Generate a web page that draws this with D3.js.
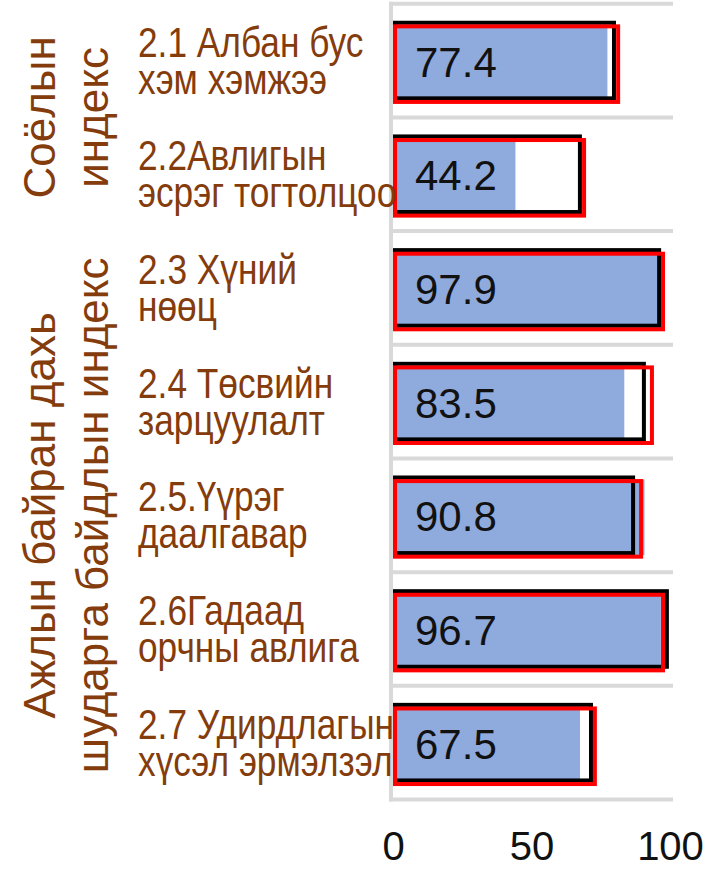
<!DOCTYPE html>
<html>
<head>
<meta charset="utf-8">
<script src="https://cdn.jsdelivr.net/npm/d3@7"></script>
<style>
  html, body { margin: 0; padding: 0; background: #fff; }
  svg { display: block; }
  text { font-family: "Liberation Sans", Arial, sans-serif; }
</style>
</head>
<body>
<svg id="chart" width="705" height="869"></svg>
<script>
// ---- data ----
const categories = [
  ["2.1 Албан бус", "хэм хэмжээ"],
  ["2.2Авлигын", "эсрэг тогтолцоо"],
  ["2.3 Хүний", "нөөц"],
  ["2.4 Төсвийн", "зарцуулалт"],
  ["2.5.Үүрэг", "даалгавар"],
  ["2.6Гадаад", "орчны авлига"],
  ["2.7 Удирдлагын", "хүсэл эрмэлзэл"]
];
const values        = [77.4, 44.2, 97.9, 83.5, 90.8, 96.7, 67.5];
const blackOutline  = [80.5, 68.2, 96.8, 91.3, 87.4, 99.6, 72.2];
const redOutline    = [82.0, 69.7, 98.2, 94.2, 90.3, 98.2, 73.6];
const tickValues    = [0, 50, 100];
const groupNames    = [["Соёлын", "индекс"], ["Ажлын байран дахь", "шударга байдлын индекс"]];
const groupSpans    = [[0, 1], [2, 6]];

// ---- layout ----
const svg = d3.select("#chart");
const ids = categories.map((c, i) => i);
const x = d3.scaleLinear().domain([0, 100]).range([393, 670]);
const y = d3.scaleBand().domain(ids).range([3.7, 799.5]).paddingInner(0.3).paddingOuter(0.15);
const step = y.step();
const gridTop = 3.7;

const labelColor = "#843C0C";
const valueColor = "#111111";
const gridColor = "#D9D9D9";
const blue = "#8FAADC";

// gridlines between categories
const gl = d3.range(categories.length + 1).map(i => gridTop + i * step);
svg.append("g").selectAll("line").data(gl).join("line")
  .attr("x1", 389).attr("x2", 673)
  .attr("y1", d => d).attr("y2", d => d)
  .attr("stroke", gridColor).attr("stroke-width", 4);

// vertical axis line
svg.append("line")
  .attr("x1", 391).attr("x2", 391)
  .attr("y1", gridTop - 2).attr("y2", gridTop + step * categories.length + 2)
  .attr("stroke", gridColor).attr("stroke-width", 4);

// blue bars
svg.append("g").selectAll("rect").data(values).join("rect")
  .attr("x", x(0))
  .attr("y", (d, i) => y(i) + 4)
  .attr("width", d => x(d) - x(0))
  .attr("height", y.bandwidth() - 4)
  .attr("fill", blue);

// black outlines
svg.append("g").selectAll("rect").data(blackOutline).join("rect")
  .attr("x", x(0) + 2)
  .attr("y", (d, i) => y(i) + 2)
  .attr("width", d => x(d) - x(0) - 4)
  .attr("height", y.bandwidth() - 4)
  .attr("fill", "none")
  .attr("stroke", "#000").attr("stroke-width", 4);

// red outlines
svg.append("g").selectAll("rect").data(redOutline).join("rect")
  .attr("x", x(0) + 2)
  .attr("y", (d, i) => y(i) + 2 + 3.6)
  .attr("width", d => x(d) - x(0) - 4)
  .attr("height", y.bandwidth() - 4)
  .attr("fill", "none")
  .attr("stroke", "#FF0000").attr("stroke-width", 4);

// value labels
svg.append("g").selectAll("text").data(values).join("text")
  .attr("x", x(0) + 22)
  .attr("y", (d, i) => y(i) + y.bandwidth() / 2 + 16)
  .attr("font-size", 42)
  .attr("fill", valueColor)
  .text(d => d.toFixed(1));

// category labels (two lines, left aligned, slightly condensed)
const cg = svg.append("g").selectAll("g").data(categories).join("g")
  .attr("transform", (d, i) => `translate(138, ${y(i) + y.bandwidth() / 2}) scale(0.84, 1)`);
cg.append("text").attr("y", -4).attr("font-size", 42).attr("fill", labelColor).text(d => d[0]);
cg.append("text").attr("y", 33).attr("font-size", 42).attr("fill", labelColor).text(d => d[1]);

// group labels (rotated)
groupNames.forEach((lines, gi) => {
  const [a, b] = groupSpans[gi];
  const cy = (y(a) + y(b) + y.bandwidth()) / 2;
  const xs = [55, 108];
  lines.forEach((t, li) => {
    svg.append("text")
      .attr("transform", `translate(${xs[li]}, ${cy}) rotate(-90)`)
      .attr("text-anchor", "middle")
      .attr("font-size", 44)
      .attr("fill", labelColor)
      .text(t);
  });
});

// x axis tick labels
const axis = d3.axisBottom(x).tickValues(tickValues).tickSize(0).tickPadding(0).tickFormat(d3.format("d"));
const ax = svg.append("g").attr("transform", "translate(0, 860)").call(axis);
ax.select(".domain").remove();
ax.selectAll("text")
  .attr("font-size", 40)
  .attr("font-family", "Liberation Sans, Arial, sans-serif")
  .attr("fill", valueColor)
  .attr("dy", "0");
</script>
</body>
</html>
